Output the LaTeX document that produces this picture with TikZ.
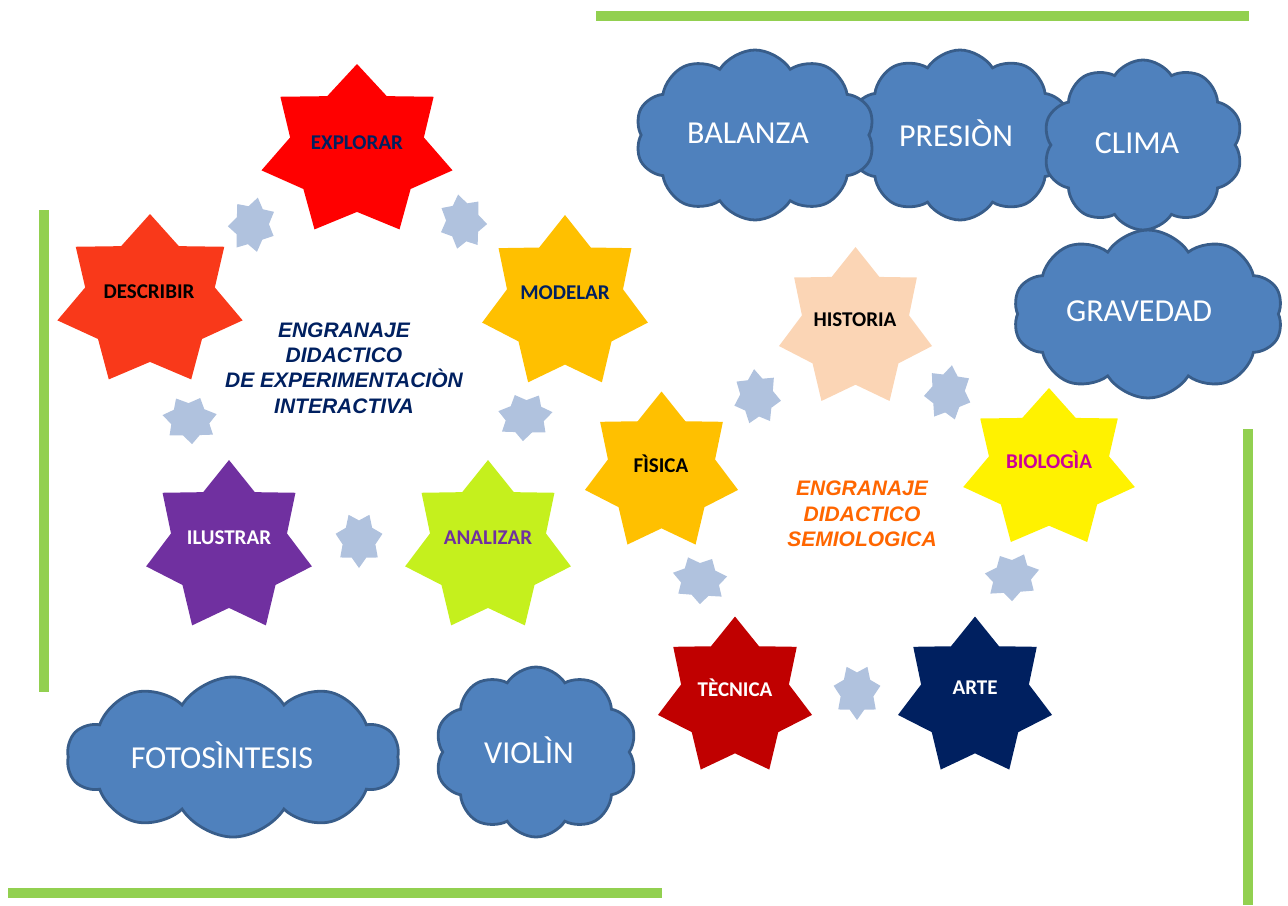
\documentclass[tikz,border=0pt]{standalone}
\usepackage{fontspec}
\setmainfont{Carlito}
\newfontfamily\headfont{Liberation Sans}
\usetikzlibrary{shapes.symbols}

\definecolor{leafgreen}{HTML}{92D050}
\definecolor{cloudfill}{HTML}{4F81BD}
\definecolor{cloudline}{HTML}{385D8A}
\definecolor{dotstar}{HTML}{B0C2DE}
\definecolor{navy}{HTML}{002060}
\definecolor{redorange}{HTML}{F9391A}
\definecolor{gold}{HTML}{FFC000}
\definecolor{plum}{HTML}{7030A0}
\definecolor{lime}{HTML}{C5F01D}
\definecolor{peach}{HTML}{FBD5B5}
\definecolor{fuchsia}{HTML}{CC0099}
\definecolor{crimson}{HTML}{C00000}
\definecolor{tangerine}{HTML}{FF6600}

\tikzset{
  pics/sevenstar/.style={code={
    \fill[#1] (-90:1) \foreach \k in {1,...,13}{ -- ({-90+\k*180/7}:{1-0.3*mod(\k,2)}) } -- cycle;
  }},
  starlabel/.style={font=\bfseries\fontsize{10.5}{12}\selectfont, inner sep=0pt},
  cloudbox/.style={cloud, cloud puffs=10, cloud puff arc=115, cloud ignores aspect,
    fill=cloudfill, draw=cloudline, line width=1.4pt, inner sep=0pt},
  cloudtext/.style={text=white, inner sep=0pt, font=\fontsize{16}{18}\selectfont},
  gearhead/.style={font=\headfont\bfseries\itshape\fontsize{10.5}{12.7}\selectfont,
    align=center, inner sep=0pt},
  border/.style={leafgreen, line width=5pt}
}

\begin{document}
\begin{tikzpicture}[x=0.5pt, y=-0.5pt]
  \useasboundingbox (0,0) rectangle (1288,905);

  % green frame pieces
  \draw[border] (596,16) -- (1249,16);
  \draw[border] (44,210) -- (44,692);
  \draw[border] (8,892.5) -- (662,892.5);
  \draw[border] (1248,429) -- (1248,905);

  % clouds
  \node[cloudbox, minimum width=112pt, minimum height=85pt] (presion) at (960,135) {};
  \node[cloudbox, minimum width=120pt, minimum height=85pt] (balanza) at (755,135) {};
  \node[cloudbox, minimum width=100pt, minimum height=85pt] (clima) at (1143,145) {};
  \node[cloudbox, minimum width=135pt, minimum height=84pt] (gravedad) at (1148,314) {};
  \node[cloudbox, minimum width=166pt, minimum height=80pt] (fotosintesis) at (233,757) {};
  \node[cloudbox, minimum width=101pt, minimum height=85pt] (violin) at (536,752) {};

  \node[cloudtext] (presion-t) at (956,133) {PRESIÒN};
  \node[cloudtext] (balanza-t) at (748,133) {BALANZA};
  \node[cloudtext] (clima-t) at (1137,143) {CLIMA};
  \node[cloudtext] (gravedad-t) at (1139,311) {GRAVEDAD};
  \node[cloudtext] (fotosintesis-t) at (222,755) {FOTOSÌNTESIS};
  \node[cloudtext] (violin-t) at (529,750) {VIOLÌN};

  % small stars between the big ones
  \foreach \x/\y/\r in {252/225/-12, 463/222/10, 190/420/80, 525/417/-80, 359/540/180,
                        757/397/6, 948/393/-8, 700/580/75, 1012/577/-75, 857/692/180}
    \pic[rotate=\r, xscale=24, yscale=28] at (\x,\y) {sevenstar=dotstar};

  % first gear
  \pic[xscale=98, yscale=87] at (357,151) {sevenstar=red};
  \node[starlabel, text=navy] (explorar) at (357,143) {EXPLORAR};
  \pic[xscale=95, yscale=87] at (150,301) {sevenstar=redorange};
  \node[starlabel, text=black] (describir) at (149,292) {DESCRIBIR};
  \pic[xscale=85, yscale=88] at (565,303) {sevenstar=gold};
  \node[starlabel, text=navy] (modelar) at (565,293) {MODELAR};
  \pic[xscale=85, yscale=87] at (229,547) {sevenstar=plum};
  \node[starlabel, text=white] (ilustrar) at (229,538) {ILUSTRAR};
  \pic[xscale=85, yscale=87] at (488,547) {sevenstar=lime};
  \node[starlabel, text=plum] (analizar) at (488,538) {ANALIZAR};

  \node[gearhead, text=navy] (gear1) at (344,368)
    {ENGRANAJE\\DIDACTICO\\DE EXPERIMENTACIÒN\\INTERACTIVA};

  % second gear
  \pic[xscale=78.5, yscale=81] at (855.5,328) {sevenstar=peach};
  \node[starlabel, text=black] (historia) at (855,320) {HISTORIA};
  \pic[xscale=78.5, yscale=80.5] at (661.5,472) {sevenstar=gold};
  \node[starlabel, text=black] (fisica) at (661,464) {FÌSICA};
  \pic[xscale=88, yscale=81] at (1049,469) {sevenstar=yellow};
  \node[starlabel, text=fuchsia] (biologia) at (1049,460) {BIOLOGÌA};
  \pic[xscale=79, yscale=80.5] at (735,697) {sevenstar=crimson};
  \node[starlabel, text=white] (tecnica) at (735,688) {TÈCNICA};
  \pic[xscale=79, yscale=80.5] at (975,697) {sevenstar=navy};
  \node[starlabel, text=white] (arte) at (975,688) {ARTE};

  \node[gearhead, text=tangerine] (gear2) at (862,514)
    {ENGRANAJE\\DIDACTICO\\SEMIOLOGICA};
\end{tikzpicture}
\end{document}
